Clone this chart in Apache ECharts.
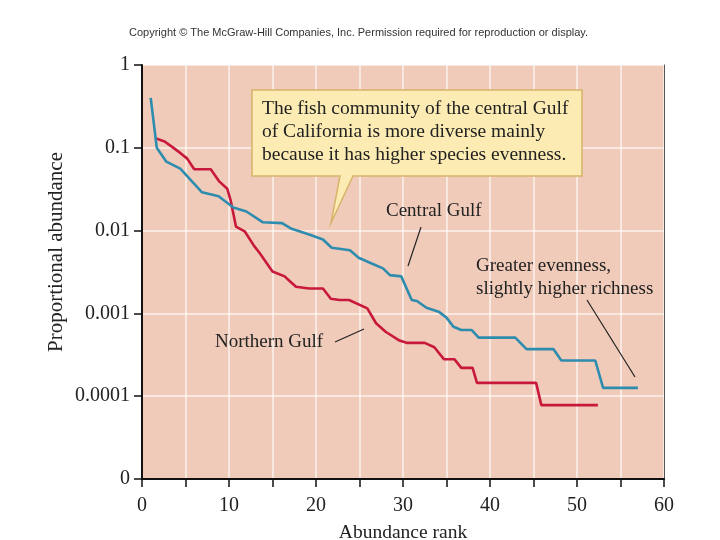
<!DOCTYPE html>
<html>
<head>
<meta charset="utf-8">
<script src="https://cdn.jsdelivr.net/npm/echarts@6/dist/echarts.min.js"></script>
<style>
html,body{margin:0;padding:0;background:#fff;}
#chart{width:720px;height:540px;}
</style>
</head>
<body>
<div id="chart"></div>
<script>
// Central Gulf: [abundance rank, proportional abundance]
const centralRank = [1.0, 1.7, 2.8, 4.4, 6.9, 8.8, 10.5, 12.0, 13.9, 16.1, 17.2, 19.3, 20.8, 21.8, 23.9, 24.9, 26.4, 27.7, 28.5, 29.8, 31.0, 31.6, 32.7, 34.1, 35.0, 35.8, 36.7, 37.9, 38.7, 42.9, 44.2, 47.3, 48.2, 52.1, 53.0, 57.0];
const centralValue = [0.40, 0.10, 0.068, 0.056, 0.029, 0.026, 0.019, 0.017, 0.0126, 0.0123, 0.0105, 0.0089, 0.0078, 0.0062, 0.0058, 0.0047, 0.0040, 0.0035, 0.0029, 0.0028, 0.00145, 0.00141, 0.00117, 0.00105, 0.00089, 0.00069, 0.00063, 0.00063, 0.00051, 0.00051, 0.00037, 0.00037, 0.00027, 0.00027, 0.000126, 0.000126];
// Northern Gulf
const northernRank = [1.6, 2.6, 3.5, 4.5, 5.2, 6.0, 7.9, 8.9, 9.8, 10.2, 10.8, 11.8, 12.9, 13.5, 15.0, 16.4, 16.9, 17.7, 19.2, 20.8, 21.7, 22.7, 23.8, 25.9, 26.9, 28.0, 29.6, 30.5, 32.5, 33.6, 34.7, 35.9, 36.7, 38.0, 38.5, 45.3, 45.9, 52.4];
const northernValue = [0.130, 0.119, 0.102, 0.085, 0.074, 0.055, 0.055, 0.039, 0.032, 0.023, 0.0112, 0.0098, 0.0065, 0.0054, 0.0032, 0.0028, 0.0025, 0.0021, 0.0020, 0.0020, 0.0015, 0.00145, 0.00145, 0.00115, 0.00076, 0.00060, 0.00047, 0.00044, 0.00044, 0.00039, 0.00028, 0.00028, 0.00022, 0.00022, 0.000145, 0.000145, 0.000078, 0.000078];
// Y tick labels, by decade exponent
const yTickLabels = {'0': '1', '-1': '0.1', '-2': '0.01', '-3': '0.001', '-4': '0.0001', '-5': '0'};

const zip = (a, b) => a.map((x, i) => [x, b[i]]);
const serif = '"Liberation Serif", "DejaVu Serif", serif';

const chart = echarts.init(document.getElementById('chart'), null, {renderer: 'canvas'});
chart.setOption({
  backgroundColor: '#ffffff',
  animation: false,
  grid: {left: 142, right: 56, top: 65, bottom: 61, show: true, backgroundColor: '#f0cbb9', borderWidth: 0,
    containLabel: false, outerBoundsMode: 'none'},
  xAxis: {
    type: 'value', min: 0, max: 60, interval: 5,
    name: 'Abundance rank', nameLocation: 'middle', nameGap: 44,
    nameTextStyle: {fontFamily: serif, fontSize: 19.5, color: '#222'},
    axisLine: {show: true, lineStyle: {color: '#111', width: 2}},
    axisTick: {show: true, length: 8, lineStyle: {color: '#111', width: 1.5}},
    axisLabel: {margin: 17, fontFamily: serif, fontSize: 20, color: '#222',
      formatter: v => (v % 10 === 0 ? String(v) : '')},
    splitLine: {show: true, lineStyle: {color: 'rgba(255,255,255,0.75)', width: 1.5}}
  },
  yAxis: [{
    type: 'log', logBase: 10, min: 0.00001, max: 1,
    axisLine: {show: true, lineStyle: {color: '#111', width: 2}},
    axisTick: {show: true, length: 8, lineStyle: {color: '#111', width: 1.5}},
    axisLabel: {margin: 12, fontFamily: serif, fontSize: 20, color: '#222',
      formatter: v => { const e = Math.round(Math.log10(v)); return yTickLabels[String(e)] || ''; }},
    splitLine: {show: true, lineStyle: {color: 'rgba(255,255,255,0.75)', width: 1.5}},
    minorTick: {show: false}, minorSplitLine: {show: false}
  }, {
    type: 'log', logBase: 10, min: 0.00001, max: 1, position: 'right',
    axisLine: {show: true, lineStyle: {color: '#555', width: 1}},
    axisTick: {show: false}, axisLabel: {show: false}, splitLine: {show: false}
  }],
  series: [{
    name: 'Northern Gulf', type: 'line', yAxisIndex: 0,
    data: zip(northernRank, northernValue),
    showSymbol: false, symbol: 'none',
    lineStyle: {color: '#c8193c', width: 2.6}, z: 2
  }, {
    name: 'Central Gulf', type: 'line', yAxisIndex: 0,
    data: zip(centralRank, centralValue),
    showSymbol: false, symbol: 'none',
    lineStyle: {color: '#2e8caf', width: 2.6}, z: 3
  }],
  graphic: [
    {type: 'text', left: 129, top: 27, style: {text: 'Copyright \u00A9 The McGraw-Hill Companies, Inc. Permission required for reproduction or display.', font: '11px "Liberation Sans", Arial, sans-serif', fill: '#333'}},
    {type: 'text', x: 56, y: 252, rotation: Math.PI / 2, style: {text: 'Proportional abundance', font: '21px ' + serif, fill: '#222', align: 'center', verticalAlign: 'middle'}},
    {type: 'polygon', z: 10, shape: {points: [[252,90],[582,90],[582,176],[353,176],[331,223],[340,176],[252,176]]}, style: {fill: '#fcebb3', stroke: '#d6b46a', lineWidth: 1.5}},
    {type: 'text', z: 11, left: 262, top: 97, style: {text: 'The fish community of the central Gulf\nof California is more diverse mainly\nbecause it has higher species evenness.', font: '19.5px ' + serif, fill: '#222', lineHeight: 23}},
    {type: 'text', z: 11, left: 386, top: 202, style: {text: 'Central Gulf', font: '19px ' + serif, fill: '#222'}},
    {type: 'line', z: 11, shape: {x1: 421, y1: 227, x2: 408, y2: 266}, style: {stroke: '#222', lineWidth: 1.2}},
    {type: 'text', z: 11, left: 476, top: 255, style: {text: 'Greater evenness,\nslightly higher richness', font: '19px ' + serif, fill: '#222', lineHeight: 23}},
    {type: 'line', z: 11, shape: {x1: 587, y1: 300, x2: 635, y2: 377}, style: {stroke: '#222', lineWidth: 1.2}},
    {type: 'text', z: 11, left: 215, top: 333, style: {text: 'Northern Gulf', font: '19px ' + serif, fill: '#222'}},
    {type: 'line', z: 11, shape: {x1: 335, y1: 342, x2: 364, y2: 329}, style: {stroke: '#222', lineWidth: 1.2}}
  ]
});
</script>
</body>
</html>
